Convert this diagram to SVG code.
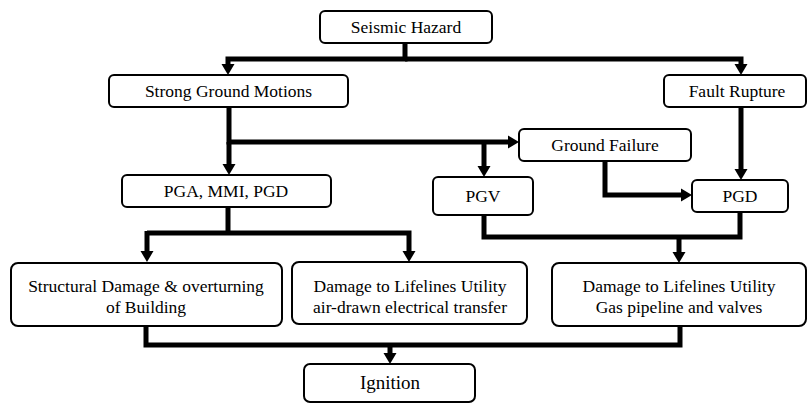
<svg xmlns="http://www.w3.org/2000/svg" width="808" height="403" viewBox="0 0 808 403">
<style>
.box{fill:#fff;stroke:#000;stroke-width:2}
text{font-family:'Liberation Serif','Times New Roman','DejaVu Serif',serif;font-size:17.5px;fill:#000;text-anchor:middle}
.c{fill:none;stroke:#000;stroke-width:5;stroke-linejoin:miter}
</style>
<defs>
<marker id="ah" markerUnits="userSpaceOnUse" markerWidth="12" markerHeight="14" refX="0" refY="6.5" orient="auto" viewBox="0 0 12 13">
<path d="M0,0 L11,6.5 L0,13 z" fill="#000"/>
</marker>
</defs>
<rect width="808" height="403" fill="#fff"/>
<g id="connectors">
<path class="c" d="M405,43 V59 H228 V64" marker-end="url(#ah)"/>
<path class="c" d="M405,59 H741 V64" marker-end="url(#ah)"/>
<path class="c" d="M229,107 V142 H508" marker-end="url(#ah)"/>
<path class="c" d="M229,142 V164" marker-end="url(#ah)"/>
<path class="c" d="M484,142 V166" marker-end="url(#ah)"/>
<path class="c" d="M741,107 V169" marker-end="url(#ah)"/>
<path class="c" d="M605,161 V195 H681" marker-end="url(#ah)"/>
<path class="c" d="M228,207 V233"/>
<path class="c" d="M147,233 H409 V251" marker-end="url(#ah)"/>
<path class="c" d="M147,231 V251" marker-end="url(#ah)"/>
<path class="c" d="M484,215 V237 H740 V212"/>
<path class="c" d="M679,237 V252" marker-end="url(#ah)"/>
<path class="c" d="M146,326 V345 H680 V326"/>
<path class="c" d="M390,345 V353" marker-end="url(#ah)"/>
</g>
<g id="seismic-hazard"><rect class="box" x="320" y="11" width="172" height="32" rx="5"/><text x="406" y="33">Seismic Hazard</text></g>
<g id="strong-ground-motions"><rect class="box" x="109" y="75" width="239" height="32" rx="5"/><text x="228.5" y="97">Strong Ground Motions</text></g>
<g id="fault-rupture"><rect class="box" x="664" y="75" width="142" height="32" rx="5"/><text x="737" y="97">Fault Rupture</text></g>
<g id="ground-failure"><rect class="box" x="519" y="129" width="172" height="32" rx="5"/><text x="605" y="151">Ground Failure</text></g>
<g id="pga-mmi-pgd"><rect class="box" x="122" y="175" width="209" height="32" rx="5"/><text x="226" y="197">PGA, MMI, PGD</text></g>
<g id="pgv"><rect class="box" x="433" y="177" width="100" height="38" rx="5"/><text x="483" y="202">PGV</text></g>
<g id="pgd"><rect class="box" x="692" y="180" width="96" height="32" rx="5"/><text x="740" y="202">PGD</text></g>
<g id="structural-damage"><rect class="box" x="11" y="263" width="271" height="63" rx="7"/><text x="146" y="292">Structural Damage &amp; overturning</text><text x="146" y="313">of Building</text></g>
<g id="damage-electrical"><rect class="box" x="292" y="262" width="235" height="62" rx="7"/><text x="410" y="292">Damage to Lifelines Utility</text><text x="410" y="313">air-drawn electrical transfer</text></g>
<g id="damage-gas"><rect class="box" x="552" y="263" width="254" height="63" rx="7"/><text x="679" y="292">Damage to Lifelines Utility</text><text x="679" y="313">Gas pipeline and valves</text></g>
<g id="ignition"><rect class="box" x="304" y="364" width="171" height="38" rx="6"/><text x="390" y="389" style="font-size:19px">Ignition</text></g>
</svg>
